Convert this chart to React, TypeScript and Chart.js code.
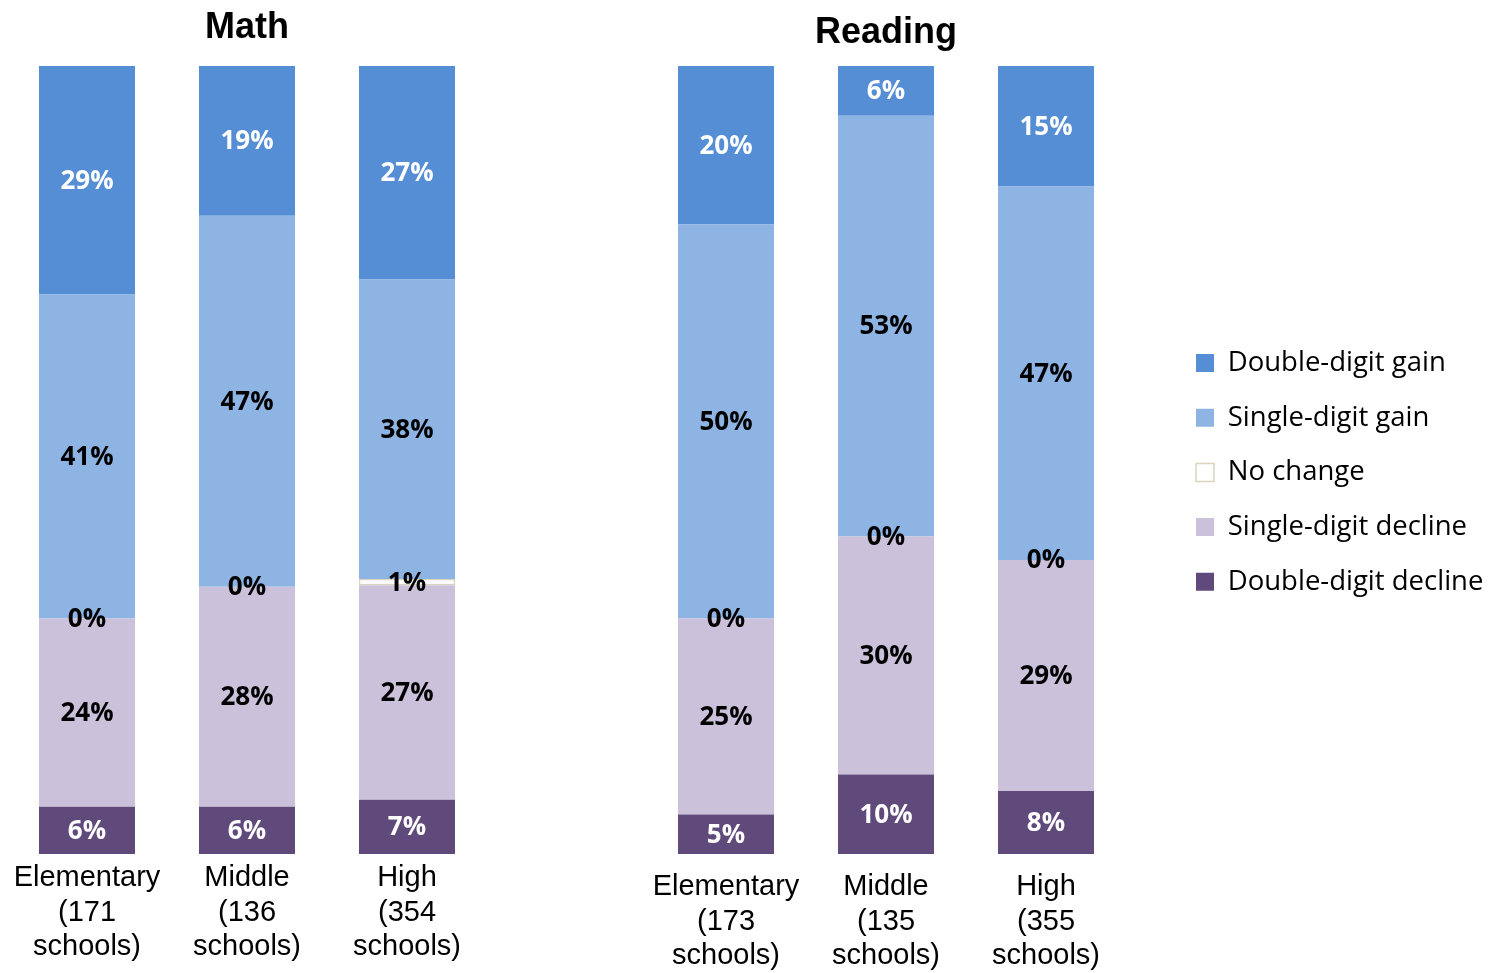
import React, { useEffect, useRef } from "react";
import { Chart, registerables } from "chart.js";

Chart.register(...registerables);

// ---- data (bottom-to-top stacking order) ----
const SERIES_NAMES = [
  "Double-digit decline",
  "Single-digit decline",
  "No change",
  "Single-digit gain",
  "Double-digit gain",
];

const MATH_CATEGORIES = [
  ["Elementary", "(171", "schools)"],
  ["Middle", "(136", "schools)"],
  ["High", "(354", "schools)"],
];
const READING_CATEGORIES = [
  ["Elementary", "(173", "schools)"],
  ["Middle", "(135", "schools)"],
  ["High", "(355", "schools)"],
];

const MATH_DOUBLE_DECLINE = [6, 6, 6.9];
const MATH_SINGLE_DECLINE = [23.9, 27.9, 27.2];
const MATH_NO_CHANGE = [0, 0, 0.8];
const MATH_SINGLE_GAIN = [41.1, 47.1, 38];
const MATH_DOUBLE_GAIN = [29, 19, 27.1];

const READING_DOUBLE_DECLINE = [5, 10.1, 8];
const READING_SINGLE_DECLINE = [24.9, 30.2, 29.3];
const READING_NO_CHANGE = [0, 0, 0];
const READING_SINGLE_GAIN = [50, 53.4, 47.4];
const READING_DOUBLE_GAIN = [20.1, 6.3, 15.3];

// ---- styles ----
const FILL_COLORS = ["#604A7B", "#CCC1DA", "#FFFFFF", "#8EB4E3", "#558ED5"];
const BORDER_COLORS = ["#604A7B", "#CCC1DA", "#D9D4BC", "#8EB4E3", "#558ED5"];
const BORDER_WIDTHS = [0, 0, 1.5, 0, 0];
const LABEL_COLORS = ["#FFFFFF", "#000000", "#000000", "#000000", "#FFFFFF"];

const ARIAL = "'Liberation Sans', Arial, sans-serif";
const CALIBRI_LIKE = "'Open Sans', 'Noto Sans', sans-serif";

const LEGEND_FONT = 27.5;
const LEGEND_BOX = 18;
const LEGEND_PAD = 27.2;
const PLOT_WIDTH = 480;

const segmentLabels = {
  id: "segmentLabels",
  afterDatasetsDraw(chart: any) {
    const ctx = chart.ctx;
    ctx.save();
    ctx.font = `bold 26px ${CALIBRI_LIKE}`;
    ctx.textAlign = "center";
    ctx.textBaseline = "middle";
    chart.data.datasets.forEach((ds: any, i: number) => {
      const meta = chart.getDatasetMeta(i);
      if (meta.hidden) return;
      meta.data.forEach((el: any, j: number) => {
        const v = ds.data[j];
        const { x, y, base } = el.getProps(["x", "y", "base"], true);
        ctx.fillStyle = LABEL_COLORS[i];
        ctx.fillText(Math.round(v) + "%", x, (y + base) / 2 + 1);
      });
    });
    ctx.restore();
  },
};

function buildDatasets(series: number[][]) {
  return series.map((data, i) => ({
    label: SERIES_NAMES[i],
    data,
    backgroundColor: FILL_COLORS[i],
    borderColor: BORDER_COLORS[i],
    borderWidth: BORDER_WIDTHS[i],
    borderSkipped: false,
    barPercentage: 0.6,
    categoryPercentage: 1,
  }));
}

type PanelProps = {
  title: string;
  categories: string[][];
  series: number[][];
  left: number;
  width: number;
  padLeft: number;
  padRight: number;
  padTop: number;
  titlePadTop: number;
  titlePadBottom: number;
  tickPadding: number;
  legend: boolean;
  spacer: number;
};

function Panel(p: PanelProps) {
  const ref = useRef<HTMLCanvasElement | null>(null);
  useEffect(() => {
    if (!ref.current) return;
    let padRight = p.padRight;
    if (p.legend) {
      const m = document.createElement("canvas").getContext("2d")!;
      m.font = `normal ${LEGEND_FONT}px ${CALIBRI_LIKE}`;
      const tw = Math.max(...SERIES_NAMES.map((n) => m.measureText(n).width));
      const legendWidth = LEGEND_PAD + LEGEND_BOX + LEGEND_FONT / 2 + tw + 10;
      padRight = p.width - p.padLeft - PLOT_WIDTH - p.spacer - legendWidth;
    }
    const chart = new Chart(ref.current, {
      type: "bar",
      data: {
        labels: p.categories,
        datasets: buildDatasets(p.series) as any,
      },
      options: {
        responsive: false,
        animation: false,
        devicePixelRatio: 1,
        events: [],
        layout: {
          padding: { left: p.padLeft, right: padRight, top: p.padTop, bottom: 0 },
        },
        scales: {
          x: {
            stacked: true,
            grid: { display: false, drawTicks: false },
            border: { display: false },
            ticks: {
              color: "#000",
              font: { family: ARIAL, size: 29, lineHeight: 1.19 },
              padding: p.tickPadding,
              maxRotation: 0,
              minRotation: 0,
              autoSkip: false,
            },
            afterFit: (s: any) => {
              s.height = 973 - 854;
            },
          },
          y: {
            stacked: true,
            min: 0,
            max: 100,
            position: "right",
            display: p.spacer > 0,
            grid: { display: false, drawTicks: false },
            border: { display: false },
            ticks: { display: false },
            afterFit: (s: any) => {
              s.width = p.spacer;
            },
          },
        },
        plugins: {
          tooltip: { enabled: false },
          title: {
            display: true,
            text: p.title,
            fullSize: false,
            color: "#000",
            font: { family: ARIAL, size: 36, weight: "bold", lineHeight: 1.2 },
            padding: { top: p.titlePadTop, bottom: p.titlePadBottom },
          },
          legend: {
            display: p.legend,
            position: "right",
            align: "center",
            reverse: true,
            maxWidth: 1000,
            labels: {
              color: "#000",
              boxWidth: LEGEND_BOX,
              boxHeight: LEGEND_BOX,
              padding: LEGEND_PAD,
              font: { family: CALIBRI_LIKE, size: LEGEND_FONT },
            },
          },
        },
      } as any,
      plugins: [segmentLabels],
    });
    return () => chart.destroy();
  }, []);
  return (
    <div style={{ position: "absolute", left: p.left, top: 0, width: p.width, height: 973 }}>
      <canvas ref={ref} width={p.width} height={973} style={{ display: "block" }} />
    </div>
  );
}

export default function App() {
  return (
    <div style={{ position: "absolute", left: 0, top: 0, width: 1497, height: 973, background: "#fff" }}>
      <Panel
        title="Math"
        categories={MATH_CATEGORIES}
        series={[MATH_DOUBLE_DECLINE, MATH_SINGLE_DECLINE, MATH_NO_CHANGE, MATH_SINGLE_GAIN, MATH_DOUBLE_GAIN]}
        left={0}
        width={500}
        padLeft={7}
        padRight={13}
        padTop={0}
        titlePadTop={6}
        titlePadBottom={16.8}
        tickPadding={7}
        legend={false}
        spacer={0}
      />
      <Panel
        title="Reading"
        categories={READING_CATEGORIES}
        series={[
          READING_DOUBLE_DECLINE,
          READING_SINGLE_DECLINE,
          READING_NO_CHANGE,
          READING_SINGLE_GAIN,
          READING_DOUBLE_GAIN,
        ]}
        left={600}
        width={897}
        padLeft={46}
        padRight={0}
        padTop={-28.2}
        titlePadTop={39.6}
        titlePadBottom={11.4}
        tickPadding={16}
        legend={true}
        spacer={42.8}
      />
    </div>
  );
}
